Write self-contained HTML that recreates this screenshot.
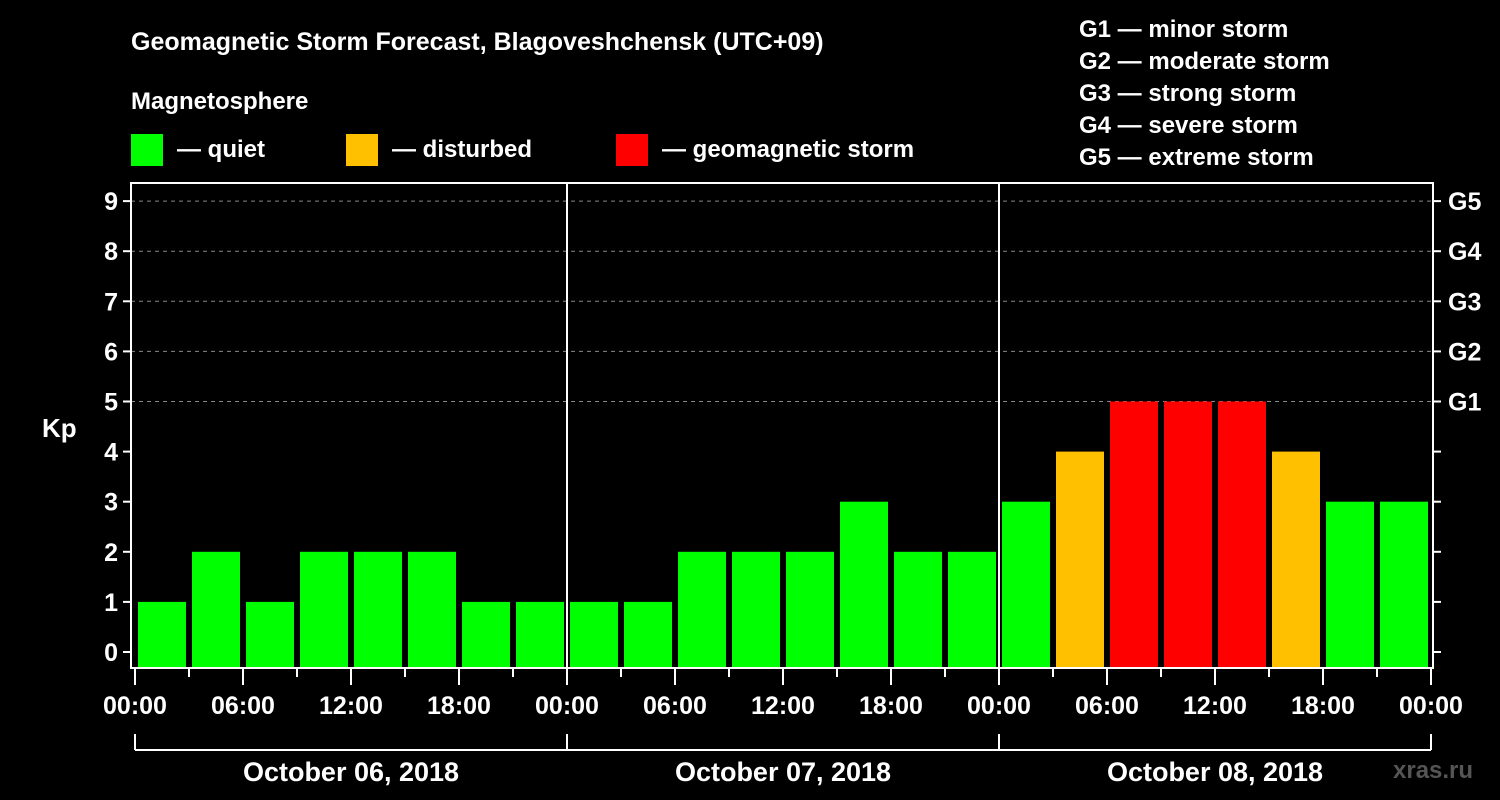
<!DOCTYPE html>
<html><head><meta charset="utf-8"><style>
html,body{margin:0;padding:0;background:#000;}
svg{display:block;font-family:"Liberation Sans",Arial,sans-serif;font-weight:bold;}
</style></head><body>
<svg id="chart" width="1500" height="800">
<rect width="1500" height="800" fill="#000"/>
<text x="131" y="50" fill="#fff" font-size="25">Geomagnetic Storm Forecast, Blagoveshchensk (UTC+09)</text>
<text x="131" y="109" fill="#fff" font-size="24">Magnetosphere</text>
<g><rect x="131" y="134" width="32" height="32" fill="#00ff00"/><text x="177" y="157" fill="#fff" font-size="24">— quiet</text></g>
<g><rect x="346" y="134" width="32" height="32" fill="#ffc000"/><text x="392" y="157" fill="#fff" font-size="24">— disturbed</text></g>
<g><rect x="616" y="134" width="32" height="32" fill="#ff0000"/><text x="662" y="157" fill="#fff" font-size="24">— geomagnetic storm</text></g>
<g fill="#fff" font-size="24">
<text x="1079" y="37">G1 — minor storm</text>
<text x="1079" y="69">G2 — moderate storm</text>
<text x="1079" y="101">G3 — strong storm</text>
<text x="1079" y="133">G4 — severe storm</text>
<text x="1079" y="165">G5 — extreme storm</text>
</g>
<text x="42" y="437" fill="#fff" font-size="26">Kp</text>
<text x="1393" y="778" fill="#555" font-size="24">xras.ru</text>
<g id="plot"></g>
</svg>
<script>
const kpValues=[1,2,1,2,2,2,1,1, 1,1,2,2,2,3,2,2, 3,4,5,5,5,4,3,3];
const yTicks=[0,1,2,3,4,5,6,7,8,9];
const gLabels=["G1","G2","G3","G4","G5"];
const timeLabels=["00:00","06:00","12:00","18:00"];
const dayLabels=["October 06, 2018","October 07, 2018","October 08, 2018"];
const NS="http://www.w3.org/2000/svg";
const L=131,R=1433,T=183,B=668,X0=135,dayW=432;
const y=v=>652-v*50.1;
const x=h=>X0+h*(dayW/24);
const g=document.getElementById('plot');
function mk(t,a,txt){const e=document.createElementNS(NS,t);for(const k in a)e.setAttribute(k,a[k]);if(txt!==undefined)e.textContent=txt;g.appendChild(e);return e;}
yTicks.forEach(v=>{
 if(v>=5){const l=mk('line',{x1:L,x2:R,y1:y(v),y2:y(v),stroke:'#888','stroke-dasharray':'4,4','stroke-width':1});
 
 }
 const t=mk('line',{x1:L-8,x2:L,y1:y(v),y2:y(v),stroke:'#fff','stroke-width':2});
 
 
 const r=mk('line',{x1:R,x2:R+8,y1:y(v),y2:y(v),stroke:'#fff','stroke-width':2});
 
 
 const tl=mk('text',{x:L-13,y:y(v)+9,fill:'#fff','font-size':25,'text-anchor':'end'},String(v));
 
 
});
gLabels.forEach((s,i)=>{
 const t=mk('text',{x:R+15,y:y(5+i)+9,fill:'#fff','font-size':25},s);
 
 
});
kpValues.forEach((v,i)=>{
 const c=v>=5?'#ff0000':(v>=4?'#ffc000':'#00ff00');
 const b=mk('rect',{x:x(i*3)+3,y:y(v),width:dayW/8-6,height:B-y(v),fill:c});
 
 
});
for(let d=1;d<dayLabels.length;d++){
 const l=mk('line',{x1:x(d*24),x2:x(d*24),y1:T,y2:B,stroke:'#fff','stroke-width':2});
 
 
}
const fr=mk('rect',{x:L,y:T,width:R-L,height:B-T,fill:'none',stroke:'#fff','stroke-width':2});


for(let h=0;h<=24*dayLabels.length;h+=3){
 const major=h%6===0;
 const t=mk('line',{x1:x(h),x2:x(h),y1:B,y2:major?685:677,stroke:'#fff','stroke-width':2});
 
 
 if(major){
  const lb=mk('text',{x:x(h),y:714,fill:'#fff','font-size':25,'text-anchor':'middle'},timeLabels[(h/6)%4]);
  
  
 }
}
const br=mk('line',{x1:x(0),x2:x(24*dayLabels.length),y1:750,y2:750,stroke:'#fff','stroke-width':2});


for(let d=0;d<=dayLabels.length;d++){
 const v=mk('line',{x1:x(d*24),x2:x(d*24),y1:734,y2:750,stroke:'#fff','stroke-width':2});
 
 
}
dayLabels.forEach((s,d)=>{
 const t=mk('text',{x:x(d*24+12),y:781,fill:'#fff','font-size':27,'text-anchor':'middle'},s);
 
 
});
</script>
</body></html>
